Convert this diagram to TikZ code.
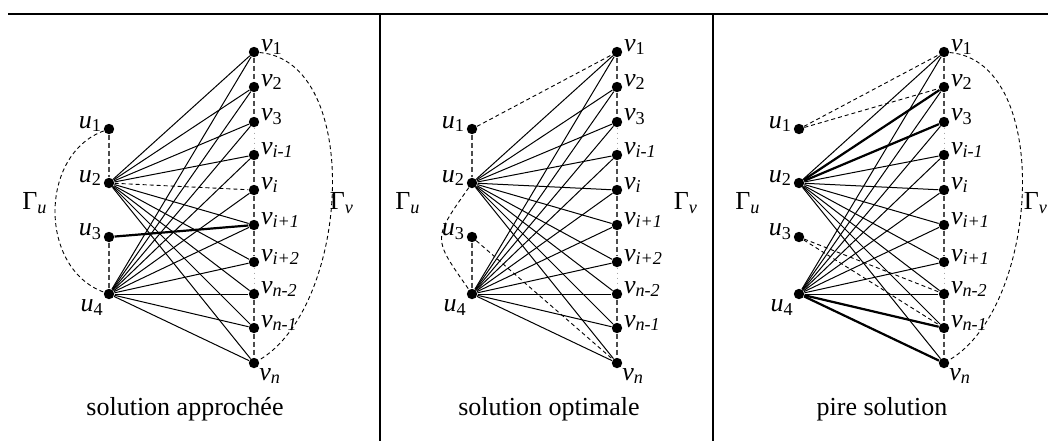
\documentclass[tikz,border=0pt]{standalone}
\usepackage{fontspec}
\setmainfont{Liberation Serif}
\usetikzlibrary{positioning}
\newcommand{\uv}[2]{\textit{#1}\textsubscript{#2}}

\begin{document}
\begin{tikzpicture}[
  x=0.5pt,y=-0.5pt,
  font=\fontsize{13}{15}\selectfont,
  vtx/.style={circle,fill=black,inner sep=0pt,minimum size=5.2pt},
  ulab/.style={inner sep=0.5pt,yshift=2.5pt},
  vlab/.style={inner sep=0.5pt,yshift=2.5pt},
  edge/.style={line width=0.5pt},
  heavy/.style={line width=1.1pt},
  hint/.style={line width=0.45pt,dash pattern=on 2pt off 1.5pt},
  chain/.style={gray!60!black,line width=0.6pt,dash pattern=on 2.5pt off 1.5pt},
  gap/.style={gray!70,line width=0.5pt,dotted},
  rule/.style={line width=1pt}
]
\useasboundingbox (0,0) rectangle (1048,441);
\draw[rule] (8,14) -- (1048,14);
\draw[line width=0.7pt] (380,14) -- (380,441);
\draw[line width=0.7pt] (713,14) -- (713,441);

% vertices of the three panels
\foreach \p/\dx/\eight in {A/0/2,B/363/2,C/690/1}{
  \foreach \k/\y in {1/129,2/183,3/237}
    \node[vtx,label={[ulab]left:\uv{u}{\k}}] (\p-u\k) at (109+\dx,\y) {};
  \node[vtx,label={[inner sep=0.5pt]below left:\uv{u}{4}}] (\p-u4) at (109+\dx,294) {};
  \foreach \k/\y/\s in {1/52/1,2/87/2,3/122/3,4/155/\textit{i-1},5/190/\textit{i},
      6/225/\textit{i+1},7/262/\textit{i+\eight},8/294/\textit{n-2},9/328/\textit{n-1}}
    \node[vtx,label={[vlab]right:\uv{v}{\s}}] (\p-v\k) at (254+\dx,\y) {};
  \node[vtx,label={[inner sep=0.5pt]below right:\uv{v}{\textit{n}}}] (\p-v10) at (254+\dx,363) {};
  \draw[chain] (\p-v1) -- (\p-v2) -- (\p-v3);
  \draw[gap] (\p-v3) -- (\p-v4);
  \draw[chain] (\p-v4) -- (\p-v5) -- (\p-v6) -- (\p-v7);
  \draw[gap] (\p-v7) -- (\p-v8);
  \draw[chain] (\p-v8) -- (\p-v9) -- (\p-v10);
}

% complete edges
\foreach \p in {A,B,C}
  \foreach \k in {1,...,10} \draw[edge] (\p-u4) -- (\p-v\k);
\foreach \p in {B,C}
  \foreach \k in {1,...,10} \draw[edge] (\p-u2) -- (\p-v\k);
\foreach \k in {1,2,3,4,6,7,8,9,10} \draw[edge] (A-u2) -- (A-v\k);

% solution approchee
\draw[chain] (A-u1) -- (A-u2);
\draw[chain] (A-u3) -- (A-u4);
\draw[hint] (A-u2) -- (A-v5);
\draw[heavy] (A-u3) -- (A-v6);
\draw[hint] (A-u1) to[out=200,in=160,looseness=1.1] (A-u4);
\draw[hint] (A-v1) to[out=-5,in=30,looseness=0.87] (A-v10);
\node (A-gu) at (35,203) {Γ\textsubscript{\textit{u}}};
\node (A-gv) at (342,203) {Γ\textsubscript{\textit{v}}};
\node (A-cap) at (185,409) {solution approchée};

% solution optimale
\draw[chain] (B-u1) -- (B-u2);
\draw[chain] (B-u3) -- (B-u4);
\draw[hint] (B-u1) -- (B-v1);
\draw[hint] (B-u3) -- (B-v10);
\draw[hint] (B-u2) to[out=235,in=125,looseness=1.6] (B-u4);
\node (B-gu) at (408,203) {Γ\textsubscript{\textit{u}}};
\node (B-gv) at (686,203) {Γ\textsubscript{\textit{v}}};
\node (B-cap) at (549,409) {solution optimale};

% pire solution
\draw[hint] (C-u1) -- (C-v1);
\draw[hint] (C-u1) -- (C-v2);
\draw[hint] (C-u3) -- (C-v8);
\draw[hint] (C-u3) -- (C-v9);
\draw[heavy] (C-u2) -- (C-v2);
\draw[heavy] (C-u2) -- (C-v3);
\draw[heavy] (C-u4) -- (C-v9);
\draw[heavy] (C-u4) -- (C-v10);
\draw[hint] (C-v1) to[out=-5,in=30,looseness=0.87] (C-v10);
\node (C-gu) at (748,203) {Γ\textsubscript{\textit{u}}};
\node (C-gv) at (1036,203) {Γ\textsubscript{\textit{v}}};
\node (C-cap) at (882,409) {pire solution};
\end{tikzpicture}
\end{document}
